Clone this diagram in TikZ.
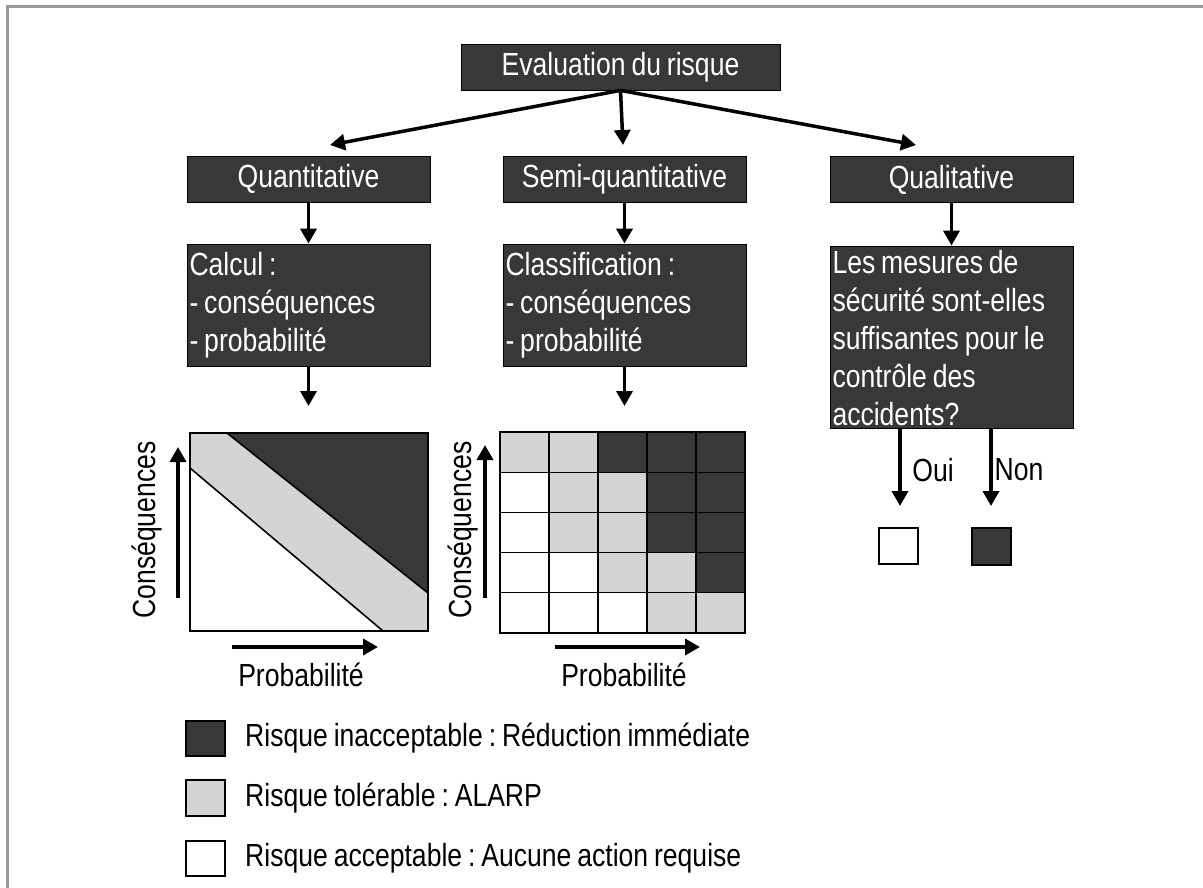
\documentclass[tikz,border=0pt]{standalone}
\usepackage{fontspec}
\setmainfont{Liberation Sans}[FakeStretch=0.83, WordSpace=0.8]
\usetikzlibrary{arrows.meta}
\definecolor{riskdark}{gray}{0.22}
\definecolor{risklight}{gray}{0.83}
\definecolor{framegray}{gray}{0.6}
\frenchspacing
% left-aligned text block of a list box
\newcommand{\boxlines}[2][0pt]{\parbox{238pt}{\raggedright\vspace*{#1}#2}}

\begin{document}
\begin{tikzpicture}[x=1pt,y=-1pt,
  txt/.style={font=\fontsize{32}{38}\selectfont},
  darkbox/.style={txt, draw=black, line width=0.8pt, fill=riskdark, text=white,
    inner sep=0pt, minimum width=243pt, minimum height=46pt},
  listbox/.style={darkbox, inner xsep=2.5pt},
  arr/.style={line width=3.5pt, -{Triangle[width=16pt,length=15pt]}},
  edge/.style={line width=1.6pt},
  lbl/.style={txt, inner sep=0pt},
  cellW/.style={draw=black, line width=1.2pt, fill=white},
  cellL/.style={draw=black, line width=1.2pt, fill=risklight},
  cellD/.style={draw=black, line width=1.2pt, fill=riskdark},
]
\useasboundingbox (0,0) rectangle (1203,888);
\fill[white] (0,0) rectangle (1203,888);

% outer frame (only top and left edges lie inside the page)
\draw[framegray, line width=2.5pt] (7.5,888) -- (7.5,6.5) -- (1203,6.5);

% ---------- boxes ----------
\node[darkbox, minimum width=319pt] (eval) at (620.5,67) {Evaluation du risque};
\node[darkbox] (quanti) at (308.5,179) {Quantitative};
\node[darkbox] (semi)   at (624.5,179) {Semi-quantitative};
\node[darkbox] (quali)  at (951.5,179.5) {Qualitative};

\node[listbox, minimum height=122pt] (calcul) at (308.5,305)
  {\boxlines{Calcul :\\- conséquences\\- probabilité}};
\node[listbox, minimum height=122pt] (classif) at (624.5,305)
  {\boxlines{Classification :\\- conséquences\\- probabilité}};
\node[listbox, minimum height=182pt] (mesures) at (951.5,337)
  {\boxlines[3pt]{Les mesures de\\sécurité sont-elles\\suffisantes pour le\\contrôle des\\accidents?}};

% ---------- arrow end points ----------
\coordinate (tq) at (330,145);
\coordinate (ts) at (623,145);
\coordinate (tl) at (916,145);
\coordinate (cq) at (308.5,406);
\coordinate (cs) at (624.5,406);
\coordinate (oui) at (900,506);
\coordinate (non) at (991,506);

\draw[arr] (eval.south) -- (tq);
\draw[arr] (eval.south) -- (ts);
\draw[arr] (eval.south) -- (tl);
\draw[arr] (quanti.south) -- (calcul.north);
\draw[arr] (semi.south) -- (classif.north);
\draw[arr] (quali.south) -- (mesures.north);
\draw[arr] (calcul.south) -- (cq);
\draw[arr] (classif.south) -- (cs);
\draw[arr] (mesures.south -| oui) -- (oui);
\draw[arr] (mesures.south -| non) -- (non);

\node[lbl] (ouilbl) at (933,470) {Oui};
\node[lbl] (nonlbl) at (1019,470) {Non};

\draw[edge, fill=white]    (879,528) rectangle (918,564);
\draw[edge, fill=riskdark] (972,528) rectangle (1011,565);

% ---------- continuous risk chart ----------
\fill[risklight] (190,433) -- (227,433) -- (428,593) -- (428,631)
  -- (383,631) -- (190,468) -- cycle;
\fill[riskdark] (227,433) -- (428,433) -- (428,593) -- cycle;
\draw[edge] (227,433) -- (428,593);
\draw[edge] (190,468) -- (383,631);
\draw[edge] (190,433) rectangle (428,631);

\coordinate (ca0) at (178,598);
\coordinate (ca1) at (178,447);
\draw[arr] (ca0) -- (ca1);
\node[lbl, rotate=90] (cons1) at (147,530) {Conséquences};
\coordinate (pa0) at (232,647);
\coordinate (pa1) at (378,647);
\draw[arr] (pa0) -- (pa1);
\node[lbl] (prob1) at (301,675) {Probabilité};

% ---------- risk matrix (rows from top) ----------
\foreach \row/\cells in {0/{L,L,D,D,D},1/{W,L,L,D,D},2/{W,L,L,D,D},3/{W,W,L,L,D},4/{W,W,W,L,L}}{
  \foreach \c [count=\col from 0] in \cells {
    \draw[cell\c] ({500+49*\col},{432+40.2*\row}) rectangle ++(49,40.2);
  }
}
\draw[edge] (500,432) rectangle (745,633);

\coordinate (ga0) at (485,598);
\coordinate (ga1) at (485,445);
\draw[arr] (ga0) -- (ga1);
\node[lbl, rotate=90] (cons2) at (463,530) {Conséquences};
\coordinate (gb0) at (555,647);
\coordinate (gb1) at (700,647);
\draw[arr] (gb0) -- (gb1);
\node[lbl] (prob2) at (624,675) {Probabilité};

% ---------- legend ----------
\draw[edge, fill=riskdark]  (186,721) rectangle (225,756);
\draw[edge, fill=risklight] (186,780) rectangle (225,816);
\draw[edge, fill=white]     (186,841) rectangle (225,876);
\node[lbl, anchor=west] (leg1) at (245,738) {Risque inacceptable : Réduction immédiate};
\node[lbl, anchor=west] (leg2) at (245,798) {Risque tolérable : ALARP};
\node[lbl, anchor=west] (leg3) at (245,858) {Risque acceptable : Aucune action requise};
\end{tikzpicture}
\end{document}
